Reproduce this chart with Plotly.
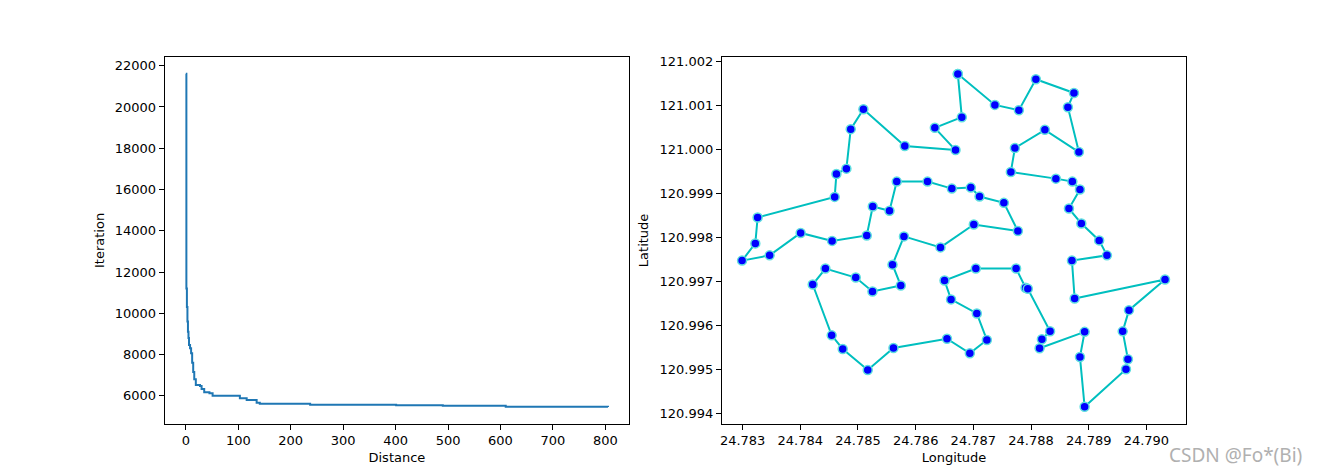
import plotly.graph_objects as go

# ---- Convergence curve data (left panel) ----
iterations = [0, 1, 2, 3, 4, 5, 6, 8, 10, 12, 14, 16, 19, 27, 30, 35, 45, 51,
              103, 116, 135, 141, 237, 401, 490, 610, 805]
distances = [21610, 11200, 10300, 9600, 9100, 8800, 8460, 8300, 8057, 7600, 7150,
             6800, 6520, 6480, 6330, 6170, 6120, 6000, 5880, 5790, 5660, 5610,
             5570, 5540, 5515, 5470, 5460]

left_xticks = [0, 100, 200, 300, 400, 500, 600, 700, 800]
left_yticks = [6000, 8000, 10000, 12000, 14000, 16000, 18000, 20000, 22000]

# ---- Route data (right panel), in visiting order ----
longitude = [24.786731, 24.786800, 24.786332, 24.786691, 24.785811, 24.785094,
             24.784874, 24.784799, 24.784626, 24.784596, 24.783260, 24.783220,
             24.782990, 24.783468, 24.784006, 24.784551, 24.785152, 24.785256,
             24.785546, 24.785672, 24.786205, 24.786627, 24.786956, 24.787107,
             24.787529, 24.787772, 24.787008, 24.786430, 24.785797, 24.785598,
             24.785742, 24.785251, 24.784961, 24.784435, 24.784215, 24.784544,
             24.784735, 24.785169, 24.785615, 24.786543, 24.786939, 24.787234,
             24.787060, 24.786613, 24.786500, 24.787043, 24.787741, 24.787905,
             24.787944, 24.788330, 24.788188, 24.788148, 24.788929, 24.788848,
             24.788929, 24.789646, 24.789680, 24.789589, 24.789698, 24.790323,
             24.788756, 24.788709, 24.789316, 24.789181, 24.788872, 24.788657,
             24.788848, 24.788716, 24.788431, 24.787650, 24.787720, 24.788240,
             24.788830, 24.788639, 24.788744, 24.788084, 24.787789, 24.787373]
latitude = [121.001712, 121.000731, 121.000489, 120.999983, 121.000074, 121.000912,
            121.000459, 120.999560, 120.999439, 120.998918, 120.998449, 120.997860,
            120.997468, 120.997588, 120.998098, 120.997917, 120.998041, 120.998698,
            120.998601, 120.999265, 120.999265, 120.999106, 120.999129, 120.998925,
            120.998782, 120.998143, 120.998290, 120.997769, 120.998019, 120.997377,
            120.996901, 120.996766, 120.997083, 120.997287, 120.996924, 120.995768,
            120.995458, 120.994982, 120.995481, 120.995691, 120.995361, 120.995662,
            120.996267, 120.996586, 120.997015, 120.997287, 120.997289, 120.996852,
            120.996829, 120.995861, 120.995680, 120.995476, 120.995848, 120.995277,
            120.994144, 120.994998, 120.995225, 120.995859, 120.996342, 120.997037,
            120.996607, 120.997468, 120.997588, 120.997928, 120.998313, 120.998653,
            120.999084, 120.999265, 120.999333, 120.999485, 121.000029, 121.000443,
            120.999938, 121.000958, 121.001282, 121.001592, 121.000890, 121.001010]

right_xticks = [24.783, 24.784, 24.785, 24.786, 24.787, 24.788, 24.789, 24.790]
right_yticks = [120.994, 120.995, 120.996, 120.997, 120.998, 120.999, 121.000, 121.001, 121.002]

# closed tour
route_lon = longitude + longitude[:1]
route_lat = latitude + latitude[:1]

FONT = "DejaVu Sans"

fig = go.Figure()
fig.add_trace(go.Scatter(x=iterations, y=distances, mode="lines",
                         line=dict(color="#1f77b4", width=2, shape="hv"),
                         xaxis="x", yaxis="y", showlegend=False))
fig.add_trace(go.Scatter(x=route_lon, y=route_lat, mode="lines+markers",
                         line=dict(color="#00bfbf", width=2),
                         marker=dict(color="#0000ff", size=9,
                                     line=dict(color="#5fdfdf", width=1.5)),
                         xaxis="x2", yaxis="y2", showlegend=False))

axis_common = dict(showline=True, mirror=True, linecolor="black", linewidth=1,
                   ticks="outside", ticklen=5, tickwidth=1, tickcolor="black",
                   showgrid=False, zeroline=False, automargin=False,
                   tickfont=dict(family=FONT, size=13, color="black"))

fig.update_layout(
    width=1318, height=476,
    margin=dict(l=0, r=0, t=0, b=0),
    paper_bgcolor="white", plot_bgcolor="white",
    font=dict(family=FONT, size=13, color="black"),
    xaxis=dict(domain=[0.125, 0.4773], range=[-40.25, 845.25],
               tickmode="array", tickvals=left_xticks,
               title=dict(text="Distance", standoff=5, font=dict(family=FONT, size=13)),
               anchor="y", **axis_common),
    yaxis=dict(domain=[0.11, 0.88], range=[4650, 22417],
               tickmode="array", tickvals=left_yticks,
               ticktext=[str(v) for v in left_yticks],
               title=dict(text="Iteration", standoff=7, font=dict(family=FONT, size=13)),
               anchor="x", **axis_common),
    xaxis2=dict(domain=[0.5477, 0.9], range=[24.78264, 24.79069],
                tickmode="array", tickvals=right_xticks, tickformat=".3f",
                title=dict(text="Longitude", standoff=5, font=dict(family=FONT, size=13)),
                anchor="y2", **axis_common),
    yaxis2=dict(domain=[0.11, 0.88], range=[120.99376, 121.002097],
                tickmode="array", tickvals=right_yticks, tickformat=".3f",
                title=dict(text="Latitude", standoff=7, font=dict(family=FONT, size=13)),
                anchor="x2", **axis_common),
    annotations=[dict(text="CSDN @Fo*(Bi)", xref="paper", yref="paper",
                      x=0.9890, y=0.012, xanchor="right", yanchor="bottom",
                      showarrow=False,
                      font=dict(family="Noto Sans", size=19, color="#b0b0b0"))],
)

fig.write_html("out.html",
               config={"displayModeBar": False},
               post_script="document.body.style.margin='0';document.body.style.overflow='hidden';")
